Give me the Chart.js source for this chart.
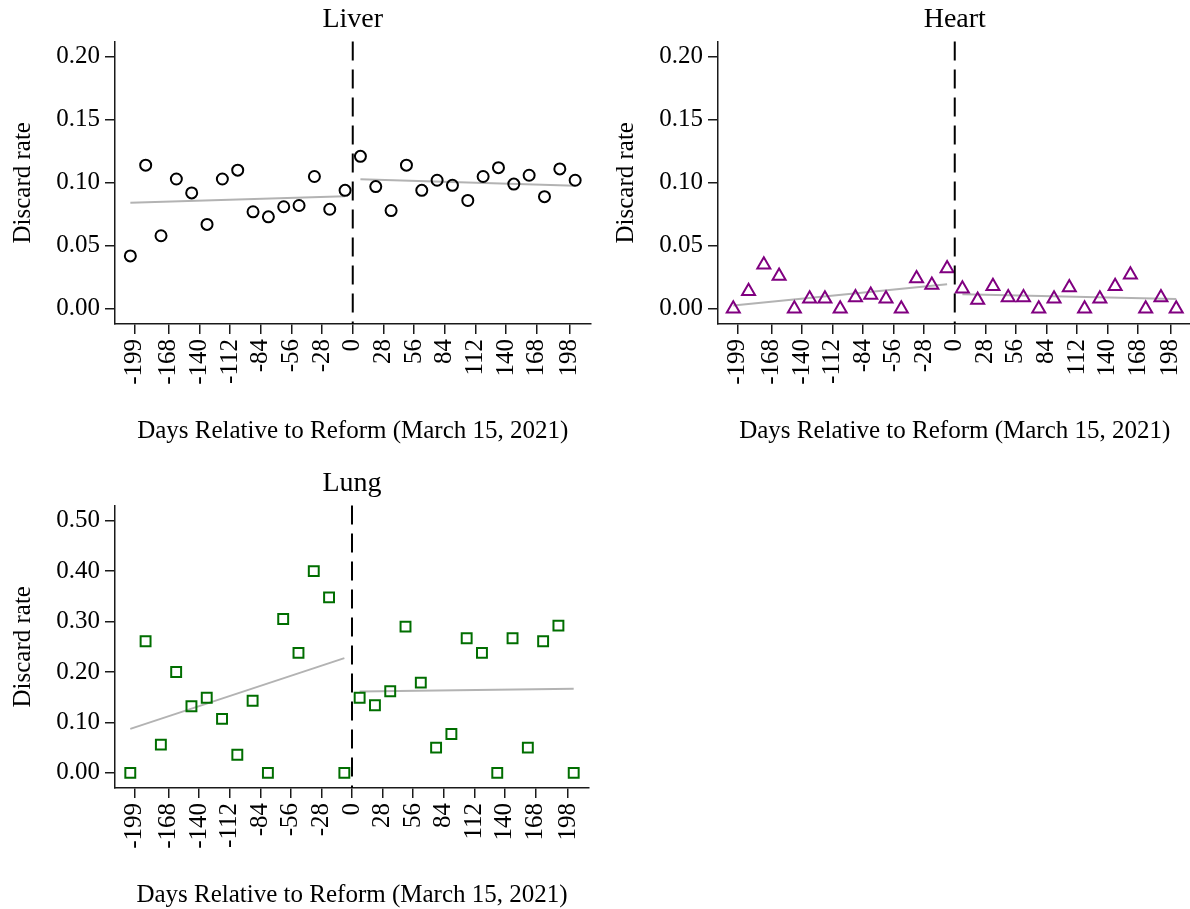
<!DOCTYPE html>
<html>
<head>
<meta charset="utf-8">
<script src="https://cdn.jsdelivr.net/npm/chart.js@4.4.1/dist/chart.umd.min.js"></script>
<style>
  html, body { margin: 0; padding: 0; background: #fff; overflow: hidden; }
  #wrap { position: relative; width: 1190px; height: 909px; overflow: hidden; }
  canvas { position: absolute; }
</style>
</head>
<body>
<div id="wrap">
  <canvas id="liverChart" width="598" height="455" style="left:0px;top:0px"></canvas>
  <canvas id="heartChart" width="598" height="455" style="left:603px;top:0px"></canvas>
  <canvas id="lungChart" width="598" height="455" style="left:0px;top:464px"></canvas>
</div>
<script>
// bin centres (days relative to the reform), 14-day bins
const daysPre = [-203, -189, -175, -161, -147, -133, -119, -105, -91, -77, -63, -49, -35, -21, -7];
const daysPost = [7, 21, 35, 49, 63, 77, 91, 105, 119, 133, 147, 161, 175, 189, 203];
const xTickDays = [-199, -168, -140, -112, -84, -56, -28, 0, 28, 56, 84, 112, 140, 168, 198];
const reformDay = 0;

// discard rates
const liverPre = [0.042, 0.114, 0.058, 0.103, 0.092, 0.067, 0.103, 0.110, 0.077, 0.073, 0.081, 0.082, 0.105, 0.079, 0.094];
const liverPost = [0.121, 0.097, 0.078, 0.114, 0.094, 0.102, 0.098, 0.086, 0.105, 0.112, 0.099, 0.106, 0.089, 0.111, 0.102];
const heartPre = [0, 0.014, 0.035, 0.026, 0, 0.008, 0.008, 0, 0.009, 0.011, 0.008, 0, 0.024, 0.019, 0.032];
const heartPost = [0.016, 0.007, 0.018, 0.009, 0.009, 0, 0.008, 0.017, 0, 0.008, 0.018, 0.027, 0, 0.009, 0];
const lungPre = [0, 0.261, 0.056, 0.200, 0.132, 0.149, 0.107, 0.036, 0.143, 0, 0.305, 0.238, 0.400, 0.348, 0];
const lungPost = [0.149, 0.134, 0.162, 0.290, 0.179, 0.050, 0.077, 0.267, 0.238, 0, 0.267, 0.050, 0.261, 0.292, 0];

// linear fit end values (first and last bin of each side)
const liverFitPre = [0.0841, 0.0894];
const liverFitPost = [0.1029, 0.0976];
const heartFitPre = [0.0026, 0.0196];
const heartFitPost = [0.0116, 0.0079];
const lungFitPre = [0.0873, 0.2275];
const lungFitPost = [0.1614, 0.1667];

// y axis ticks
const smallTicks = [0, 0.05, 0.10, 0.15, 0.20];
const lungTicks = [0, 0.10, 0.20, 0.30, 0.40, 0.50];

Chart.defaults.font.family = "'Liberation Serif', 'Times New Roman', serif";
Chart.defaults.color = '#000';

const axisColor = '#1a1a1a';

// dashed vertical line at the reform date
const reformLine = {
  id: 'reformLine',
  afterDatasetsDraw(chart) {
    const { ctx, chartArea, scales } = chart;
    const x = scales.x.getPixelForValue(reformDay);
    ctx.save();
    ctx.strokeStyle = '#000';
    ctx.lineWidth = 2;
    ctx.setLineDash([19, 9]);
    ctx.beginPath();
    ctx.moveTo(x, chartArea.top);
    ctx.lineTo(x, chartArea.bottom);
    ctx.stroke();
    ctx.restore();
  }
};

function toPoints(days, values) {
  return days.map((d, i) => ({ x: d, y: values[i] }));
}

function fitLine(days, ends) {
  return [{ x: days[0], y: ends[0] }, { x: days[days.length - 1], y: ends[1] }];
}

function makeChart(id, name, pre, post, fitPre, fitPost, yTicks, yMin, yMax, marker) {
  const ctx = document.getElementById(id).getContext('2d');
  const fitStyle = { showLine: true, pointRadius: 0, borderColor: '#b3b3b3', borderWidth: 2, fill: false };
  return new Chart(ctx, {
    type: 'scatter',
    data: {
      datasets: [
        {
          data: toPoints(daysPre, pre).concat(toPoints(daysPost, post)),
          pointStyle: marker.style,
          pointRadius: marker.radius,
          pointBorderWidth: 2,
          borderColor: marker.color,
          backgroundColor: 'rgba(0,0,0,0)'
        },
        Object.assign({ data: fitLine(daysPre, fitPre) }, fitStyle),
        Object.assign({ data: fitLine(daysPost, fitPost) }, fitStyle)
      ]
    },
    options: {
      responsive: false,
      animation: false,
      layout: { padding: 0 },
      plugins: {
        legend: { display: false },
        tooltip: { enabled: false },
        title: {
          display: true,
          fullSize: false,
          text: name,
          color: '#000',
          font: { size: 28, weight: 'normal' },
          padding: { top: 3, bottom: 5 }
        }
      },
      scales: {
        x: {
          type: 'linear',
          min: -217,
          max: 217,
          afterBuildTicks: s => { s.ticks = xTickDays.map(v => ({ value: v })); },
          afterFit: s => { s.height = 131; s.paddingLeft = 0; s.paddingRight = 0; },
          ticks: {
            autoSkip: false,
            minRotation: 90,
            maxRotation: 90,
            padding: 5,
            color: '#000',
            font: { size: 25 },
            callback: v => String(v)
          },
          grid: { drawOnChartArea: false, drawTicks: true, tickLength: 10, color: axisColor, tickColor: axisColor, lineWidth: 1.5 },
          border: { display: true, color: axisColor, width: 1.5 },
          title: {
            display: true,
            text: 'Days Relative to Reform (March 15, 2021)',
            color: '#000',
            font: { size: 25 },
            padding: { top: 0, bottom: 9 }
          }
        },
        y: {
          type: 'linear',
          min: yMin,
          max: yMax,
          afterBuildTicks: s => { s.ticks = yTicks.map(v => ({ value: v })); },
          afterFit: s => { s.width = 115; s.paddingTop = 0; s.paddingBottom = 0; },
          ticks: {
            padding: 5,
            color: '#000',
            font: { size: 25 },
            callback: v => Number(v).toFixed(2)
          },
          grid: { drawOnChartArea: false, drawTicks: true, tickLength: 10, color: axisColor, tickColor: axisColor, lineWidth: 1.5 },
          border: { display: true, color: axisColor, width: 1.5 },
          title: {
            display: true,
            text: 'Discard rate',
            color: '#000',
            font: { size: 25 },
            padding: { top: 8, bottom: 0 }
          }
        }
      }
    },
    plugins: [reformLine]
  });
}

makeChart('liverChart', 'Liver', liverPre, liverPost, liverFitPre, liverFitPost, smallTicks, -0.012, 0.212,
  { style: 'circle', radius: 5.5, color: '#000' });
makeChart('heartChart', 'Heart', heartPre, heartPost, heartFitPre, heartFitPost, smallTicks, -0.012, 0.212,
  { style: 'triangle', radius: 7.5, color: '#800080' });
makeChart('lungChart', 'Lung', lungPre, lungPost, lungFitPre, lungFitPost, lungTicks, -0.03, 0.53,
  { style: 'rect', radius: 7, color: '#006e00' });
</script>
</body>
</html>
